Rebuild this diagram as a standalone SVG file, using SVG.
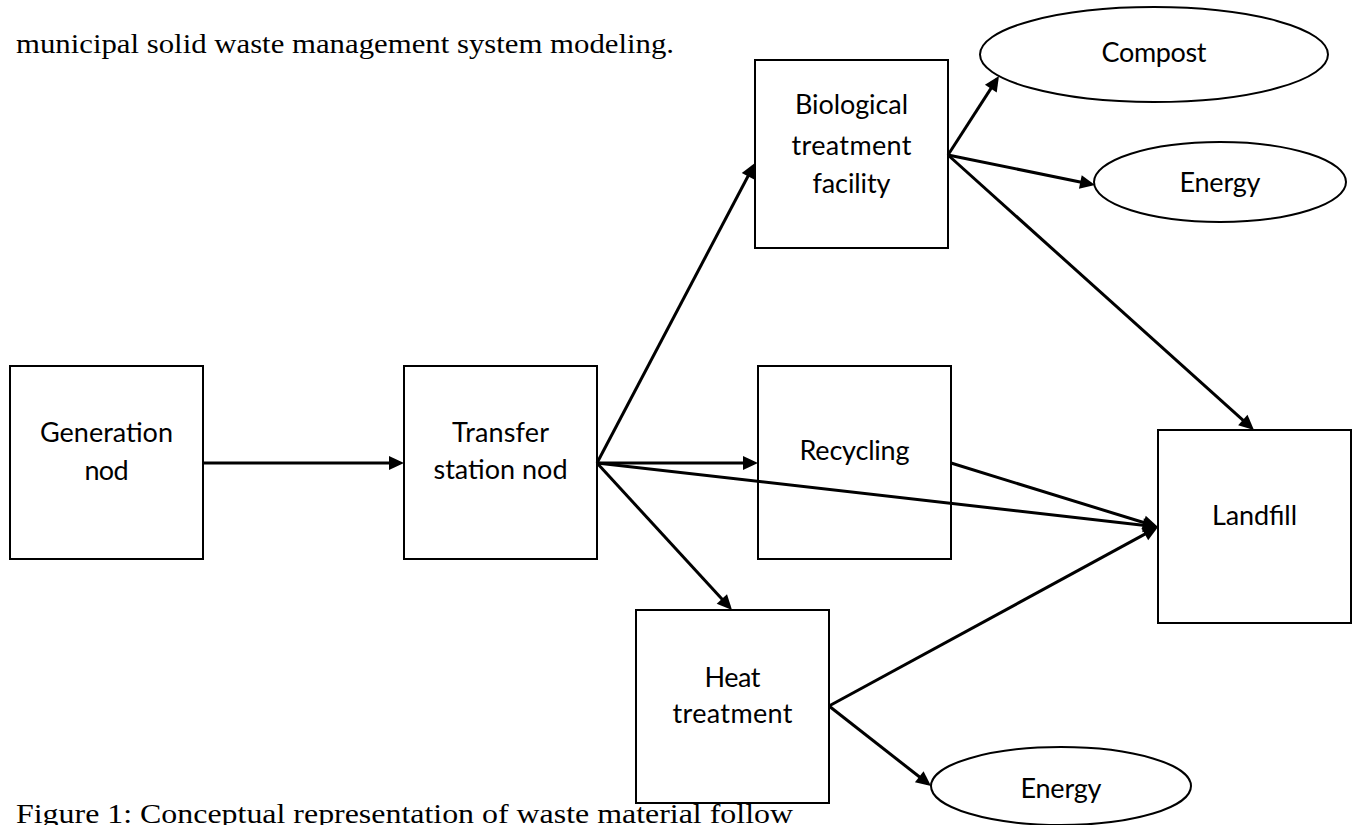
<svg xmlns="http://www.w3.org/2000/svg" width="1354" height="825" viewBox="0 0 1354 825">
  <style>
    .box { fill: #ffffff; stroke: #000000; stroke-width: 2; }
    .ell { fill: #ffffff; stroke: #000000; stroke-width: 2; }
    .lbl { font-family: Lato, "Open Sans", "Liberation Sans", sans-serif; font-size: 27px; fill: #000000; text-anchor: middle; }
    .body { font-family: "Liberation Serif", "Times New Roman", serif; font-size: 28px; fill: #000000; }
    .conn { stroke: #000000; stroke-width: 3; fill: none; marker-end: url(#arrow); }
  </style>
  <defs>
    <marker id="arrow" markerUnits="userSpaceOnUse" markerWidth="15" markerHeight="14" refX="11" refY="7" orient="auto" overflow="visible">
      <path d="M0,0 L15,7 L0,14 Z" fill="#000000"/>
    </marker>
  </defs>
  <rect x="0" y="0" width="1354" height="825" fill="#ffffff"/>

  <text class="body" x="16" y="53" textLength="658" lengthAdjust="spacingAndGlyphs">municipal solid waste management system modeling.</text>
  <text class="body" x="16" y="823" textLength="777" lengthAdjust="spacingAndGlyphs">Figure 1: Conceptual representation of waste material follow</text>

  <g id="node-generation">
    <rect class="box" x="10" y="366" width="193" height="193"/>
    <text class="lbl" x="106.5" y="442" textLength="133">Generation</text>
    <text class="lbl" x="106.5" y="480" textLength="44">nod</text>
  </g>
  <g id="node-transfer">
    <rect class="box" x="404" y="366" width="193" height="193"/>
    <text class="lbl" x="500.5" y="442" textLength="97">Transfer</text>
    <text class="lbl" x="500.5" y="479" textLength="134">station nod</text>
  </g>
  <g id="node-biological">
    <rect class="box" x="755" y="60" width="193" height="188"/>
    <text class="lbl" x="851.5" y="114" textLength="113">Biological</text>
    <text class="lbl" x="851.5" y="155" textLength="120">treatment</text>
    <text class="lbl" x="851.5" y="193" textLength="78">facility</text>
  </g>
  <g id="node-recycling">
    <rect class="box" x="758" y="366" width="193" height="193"/>
    <text class="lbl" x="854.5" y="460" textLength="110">Recycling</text>
  </g>
  <g id="node-heat">
    <rect class="box" x="636" y="610" width="193" height="193"/>
    <text class="lbl" x="732.5" y="687" textLength="56">Heat</text>
    <text class="lbl" x="732.5" y="723" textLength="120">treatment</text>
  </g>
  <g id="node-landfill">
    <rect class="box" x="1158" y="430" width="193" height="193"/>
    <text class="lbl" x="1254.5" y="525" textLength="85">Landfill</text>
  </g>
  <g id="node-compost">
    <ellipse class="ell" cx="1154" cy="54.5" rx="174" ry="47.5"/>
    <text class="lbl" x="1154" y="62" textLength="105">Compost</text>
  </g>
  <g id="node-energy-bio">
    <ellipse class="ell" cx="1220" cy="182" rx="126" ry="40"/>
    <text class="lbl" x="1220" y="192" textLength="81">Energy</text>
  </g>
  <g id="node-energy-heat">
    <ellipse class="ell" cx="1061" cy="786" rx="130" ry="39"/>
    <text class="lbl" x="1061" y="798" textLength="81">Energy</text>
  </g>

  <g id="connectors">
    <line class="conn" x1="203" y1="463" x2="400" y2="463"/>
    <line class="conn" x1="597" y1="463" x2="753.1" y2="166.5"/>
    <line class="conn" x1="597" y1="463" x2="754" y2="463"/>
    <line class="conn" x1="597" y1="463" x2="1154" y2="526.5"/>
    <line class="conn" x1="597" y1="463" x2="729.3" y2="607.1"/>
    <line class="conn" x1="948" y1="155" x2="996.8" y2="79.4"/>
    <line class="conn" x1="948" y1="155" x2="1091.1" y2="184.2"/>
    <line class="conn" x1="948" y1="155" x2="1251" y2="427.3"/>
    <line class="conn" x1="951" y1="463" x2="1154.2" y2="525.8"/>
    <line class="conn" x1="829" y1="706" x2="1154.5" y2="528.9"/>
    <line class="conn" x1="829" y1="706" x2="927.9" y2="783.5"/>
  </g>
</svg>
